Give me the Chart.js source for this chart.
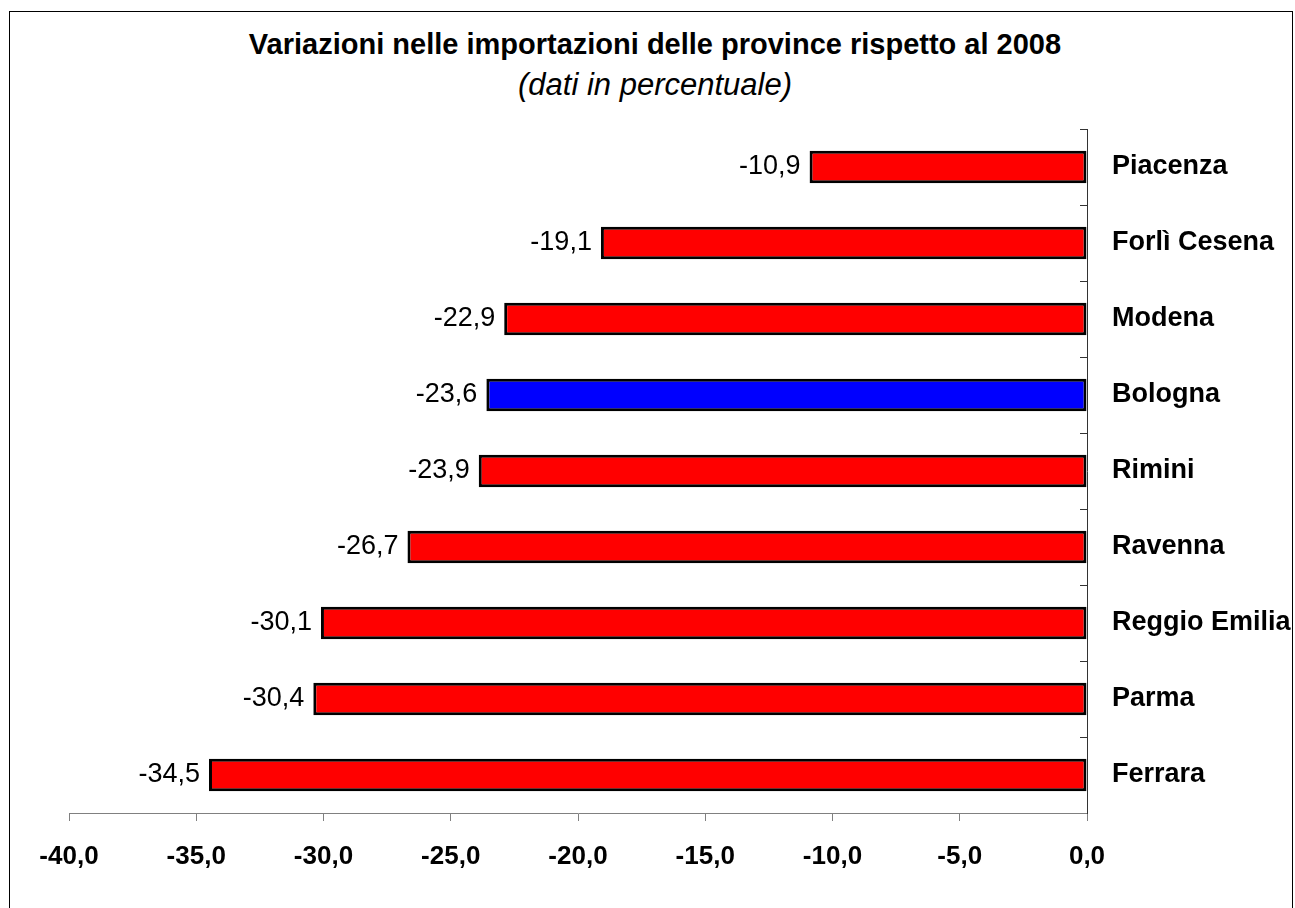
<!DOCTYPE html>
<html lang="it">
<head>
    <meta charset="UTF-8">
    <title>Variazioni nelle importazioni delle province</title>
    <style>
        body {
            margin: 0;
            padding: 0;
            background-color: #fff;
            overflow: hidden;
            font-family: 'Liberation Sans', Arial, sans-serif;
        }

        .frame {
            position: absolute;
            left: 9px;
            top: 11px;
            width: 1282px;
            height: 920px;
            border: 1px solid #000;
        }

        .heading {
            position: absolute;
            left: 0;
            width: 1310px;
            text-align: center;
            color: #000;
            white-space: nowrap;
        }

        .heading.main {
            top: 27px;
            font-size: 29px;
            font-weight: bold;
            line-height: 34px;
        }

        .heading.sub {
            top: 67px;
            font-size: 31px;
            font-style: italic;
            line-height: 36px;
        }

        .chart-box {
            position: absolute;
            left: 0;
            top: 0;
            width: 1295px;
            height: 908px;
        }
    </style>
</head>
<body>
    <div class="frame"></div>
    <div class="heading main">Variazioni nelle importazioni delle province rispetto al 2008</div>
    <div class="heading sub">(dati in percentuale)</div>
    <div class="chart-box">
        <canvas id="importChart"></canvas>
    </div>

    <script src="https://cdn.jsdelivr.net/npm/chart.js"></script>
    <script>
        // Province and change in imports (%)
        const provinces = ['Piacenza', 'Forlì Cesena', 'Modena', 'Bologna', 'Rimini', 'Ravenna', 'Reggio Emilia', 'Parma', 'Ferrara'];
        const changes = [-10.9, -19.1, -22.9, -23.6, -23.9, -26.7, -30.1, -30.4, -34.5];
        const highlighted = 'Bologna';
        const axisMin = -40;
        const axisMax = 0;
        const axisStep = 5;

        const fontFamily = "'Liberation Sans', Arial, sans-serif";
        Chart.defaults.font.family = fontFamily;
        Chart.defaults.color = '#000';

        // Italian style number: comma as decimal separator
        function formatNumber(v) {
            return v.toFixed(1).replace('.', ',');
        }

        // Value labels at the outer end of each bar
        const valueLabels = {
            id: 'valueLabels',
            afterDatasetsDraw(chart) {
                const ctx = chart.ctx;
                const meta = chart.getDatasetMeta(0);
                ctx.save();
                ctx.font = '27px ' + fontFamily;
                ctx.fillStyle = '#000';
                ctx.textAlign = 'right';
                ctx.textBaseline = 'middle';
                meta.data.forEach((bar, i) => {
                    ctx.fillText(formatNumber(changes[i]), bar.x - 9, bar.y);
                });
                ctx.restore();
            }
        };

        const ctx = document.getElementById('importChart').getContext('2d');
        new Chart(ctx, {
            type: 'bar',
            data: {
                labels: provinces,
                datasets: [{
                    data: changes,
                    backgroundColor: provinces.map(p => p === highlighted ? '#0000ff' : '#ff0000'),
                    borderColor: '#000',
                    borderWidth: 3,
                    borderSkipped: false,
                    barPercentage: 0.43,
                    categoryPercentage: 1
                }]
            },
            options: {
                indexAxis: 'y',
                responsive: true,
                maintainAspectRatio: false,
                animation: false,
                layout: {
                    padding: { left: 69, right: 0, top: 129, bottom: 0 }
                },
                plugins: {
                    legend: { display: false },
                    tooltip: { enabled: false }
                },
                scales: {
                    x: {
                        min: axisMin,
                        max: axisMax,
                        ticks: {
                            stepSize: axisStep,
                            padding: 20,
                            font: { size: 26, weight: 'bold' },
                            callback: v => formatNumber(v)
                        },
                        grid: {
                            drawOnChartArea: false,
                            drawTicks: true,
                            tickLength: 8,
                            color: '#808080'
                        },
                        border: { display: true, color: '#808080', width: 1 },
                        afterFit(scale) { scale.height = 95; }
                    },
                    y: {
                        position: 'right',
                        ticks: {
                            padding: 32,
                            font: { size: 27, weight: 'bold' }
                        },
                        grid: {
                            offset: true,
                            drawOnChartArea: false,
                            drawTicks: true,
                            tickLength: -7,
                            color: '#333'
                        },
                        border: { display: true, color: '#333', width: 1 },
                        afterFit(scale) { scale.width = 208; }
                    }
                }
            },
            plugins: [valueLabels]
        });
    </script>
</body>
</html>
